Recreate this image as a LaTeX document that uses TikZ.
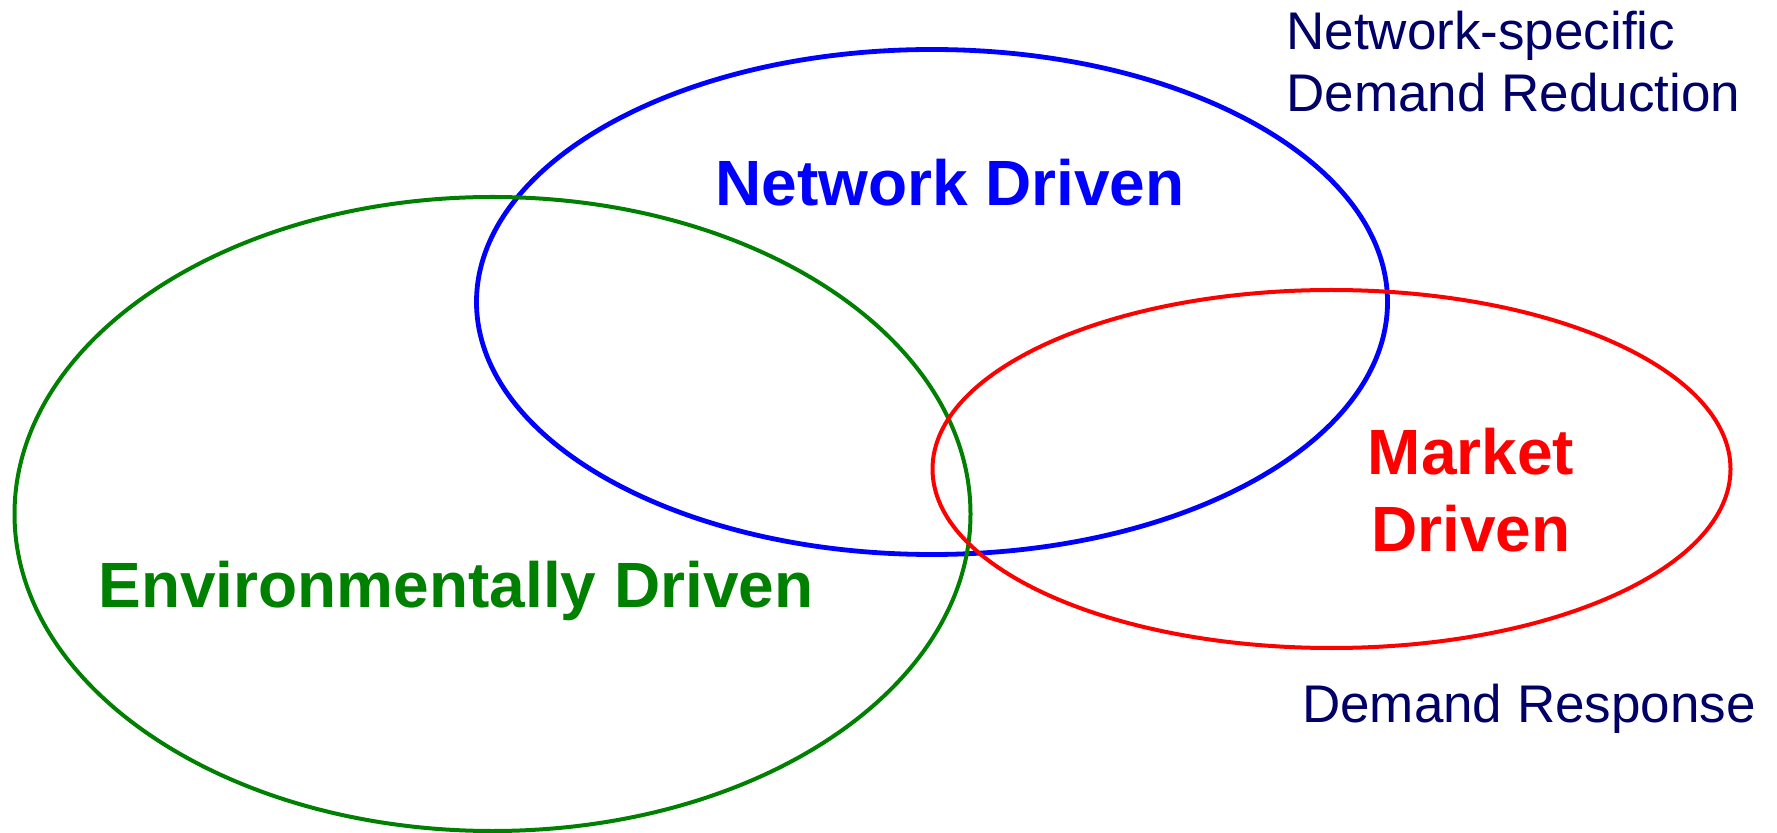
\documentclass[tikz,border=0pt]{standalone}
\usepackage{fontspec}
\setmainfont{Liberation Sans}
\definecolor{navytext}{RGB}{0,0,102}
\definecolor{envgreen}{RGB}{0,128,0}
\begin{document}
\begin{tikzpicture}[x=0.5pt,y=-0.5pt]
                \useasboundingbox (0,0) rectangle (1777,833);
                \coordinate (N) at (932,302);
                \coordinate (E) at (492.5,514);
                \coordinate (M) at (1331.5,469);
                \draw[blue,line width=2.4pt] (N) ellipse [x radius=455.5, y radius=252.5];
                \draw[envgreen,line width=2pt] (E) ellipse [x radius=478, y radius=317];
                \draw[red,line width=2pt] (M) ellipse [x radius=399, y radius=179];
                \node[anchor=base,inner sep=0pt,blue,font=\bfseries\fontsize{32}{38}\selectfont] (nd) at (950,206) {Network Driven};
                \node[anchor=base,inner sep=0pt,envgreen,font=\bfseries\fontsize{32}{38}\selectfont] (ed) at (456,607) {Environmentally Driven};
                \node[anchor=base,inner sep=0pt,red,font=\bfseries\fontsize{32}{38.5}\selectfont,align=center] (md) at (1471,552) {Market\\Driven};
                \node[anchor=base west,inner sep=0pt,navytext,font=\fontsize{26.5}{31}\selectfont,align=left] (nr) at (1286,112) {Network-specific\\Demand Reduction};
                \node[anchor=base,inner sep=0pt,navytext,font=\fontsize{26.5}{31}\selectfont] (dr) at (1529,722) {Demand Response};
            \end{tikzpicture}
\end{document}
